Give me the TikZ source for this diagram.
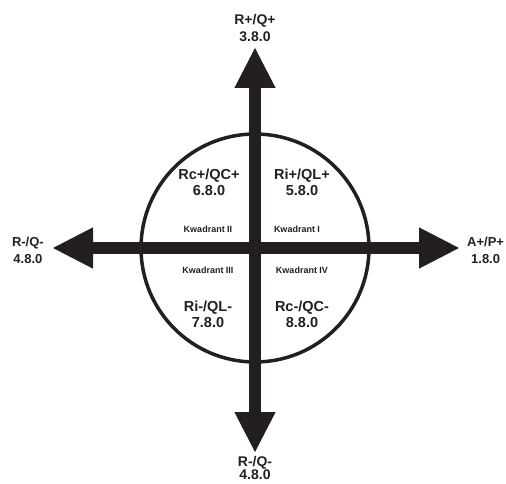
\documentclass[tikz,border=0pt]{standalone}
\usepackage{fontspec}
\setmainfont{Liberation Sans}
\usetikzlibrary{positioning,arrows.meta}
\definecolor{ink}{HTML}{231F20}

\begin{document}
\begin{tikzpicture}[
  x=1pt,y=-1pt,
  ring/.style={draw=ink,line width=3.5pt},
  axis/.style={ink,line width=12pt,{Triangle[length=41pt,width=38pt]}-{Triangle[length=41pt,width=38pt]}},
  pole/.style={font=\fontsize{14}{17}\selectfont\bfseries,text=ink,align=center,inner sep=0pt},
  side/.style={pole,font=\fontsize{13}{17}\selectfont\bfseries},
  quad/.style={font=\fontsize{14.5}{16}\selectfont\bfseries,text=ink,align=center,inner sep=0pt},
  tag/.style={font=\fontsize{9}{11}\selectfont\bfseries,text=ink,inner sep=0pt}
]
\useasboundingbox (0,0) rectangle (506,484);
\coordinate (o) at (255,248);
\coordinate (n) at (255,47);
\coordinate (s) at (255,453);
\coordinate (w) at (52,248);
\coordinate (e) at (460,248);
\draw[ring] (o) circle[radius=114];
\draw[axis] (w) -- (e);
\draw[axis] (s) -- (n);
% pole labels
\node[pole,above=5pt of n] (nl) {R+/Q+\\3.8.0};
\node[pole,below=3pt of s,font=\fontsize{14}{12.5}\selectfont\bfseries] (sl) {R-/Q-\\4.8.0};
\node[side,left=8pt of w,yshift=-2pt] (wl) {R-/Q-\\4.8.0};
\node[side,right=7pt of e,yshift=-2pt] (el) {A+/P+\\1.8.0};
% quadrants
\node[quad] (q1) at (302,182) {Ri+/QL+\\5.8.0};
\node[quad] (q2) at (209,182) {Rc+/QC+\\6.8.0};
\node[quad] (q3) at (208,314) {Ri-/QL-\\7.8.0};
\node[quad] (q4) at (302,314) {Rc-/QC-\\8.8.0};
\node[tag] (k1) at (297,229) {Kwadrant I};
\node[tag] (k2) at (208,229) {Kwadrant II};
\node[tag] (k3) at (208,270) {Kwadrant III};
\node[tag] (k4) at (302,270) {Kwadrant IV};
\end{tikzpicture}
\end{document}
